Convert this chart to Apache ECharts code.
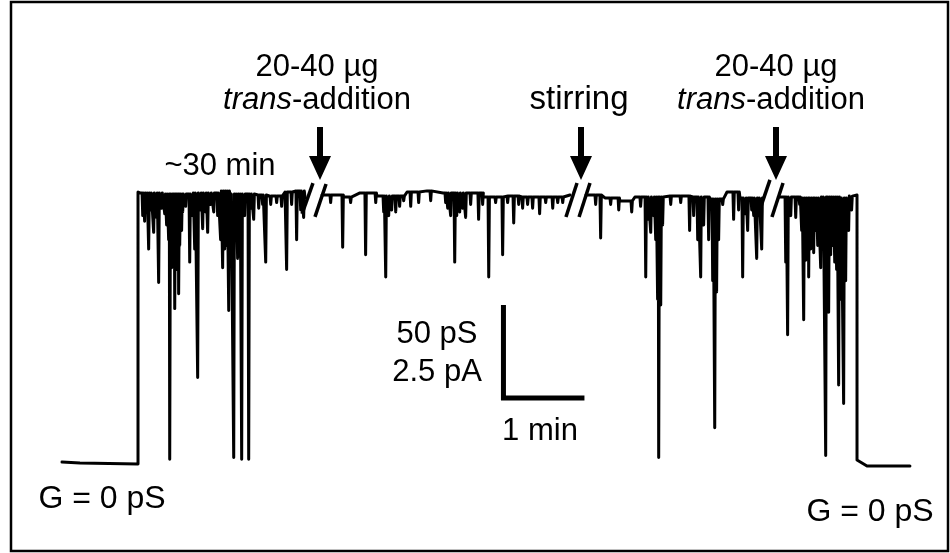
<!DOCTYPE html>
<html>
<head>
<meta charset="utf-8">
<title>trans-addition recording</title>
<script src="https://cdn.jsdelivr.net/npm/echarts@6/dist/echarts.min.js"></script>
<style>
html, body { margin: 0; padding: 0; background: #fff; }
#main { width: 950px; height: 553px; }
</style>
</head>
<body>
<div id="main"></div>
<script>
// time in s, conductance in pS

// closed level before the channel opens
var closedStartT = [0, 13.3, 56.3];
var closedStartG = [0.5, 0, -0.5];

// segment 1 (~30 min after insertion)
var seg1LevelT = [56.3, 57.8, 74.8, 94.8, 115.6, 124.4, 143.0, 154.1, 165.2, 171.1, 180.0];
var seg1LevelG = [145.7, 145.2, 144.6, 145.2, 146.2, 144.6, 144.1, 143.5, 145.7, 146.2, 142.5];
var seg1SpikeT = [59.3, 60.7, 62.2, 63.7, 65.2, 67.4, 69.6, 71.1, 73.3, 75.6, 77.0, 78.5, 79.3, 80.7, 81.5, 82.2, 83.0, 83.7, 84.4, 85.2,
	85.9, 86.7, 88.1, 88.9, 91.1, 94.1, 96.3, 97.8, 100.0, 102.2, 103.7, 105.9, 107.4, 109.6, 111.9, 114.8, 117.0, 118.5, 120.0, 121.5,
	123.0, 124.4, 126.7, 128.1, 129.6, 131.1, 132.6, 134.8, 137.8, 139.3, 141.5, 145.2, 148.1, 150.4, 154.1, 158.5, 162.2, 165.9, 169.6, 173.3,
	176.3, 178.5];
var seg1SpikeG = [133, 130, 135, 115, 136, 124, 132, 97, 137, 134, 128, 120, 2, 105, 112, 108, 83, 115, 104, 109,
	91, 117, 125, 135, 138, 108, 133, 115, 46, 136, 126, 135, 124, 139, 135, 133, 120, 105, 115, 117,
	82, 112, 3, 120, 110, 125, 2, 133, 2, 137, 131, 137, 139, 108, 139, 140, 138, 104, 139, 120,
	136, 132];

// segment 2 (after first trans-addition)
var seg2LevelT = [192.6, 208.1, 220.7, 233.3, 255.6, 270.4, 282.2, 294.8, 311.9, 326.7, 339.3, 357.8, 376.3];
var seg2LevelG = [144.1, 143.0, 145.2, 143.5, 145.7, 146.3, 145.2, 145.2, 143.0, 143.5, 143.0, 143.0, 144.1];
var seg2SpikeT = [198.5, 207.4, 213.3, 224.4, 231.9, 237.8, 239.3, 241.5, 243.7, 246.7, 249.6, 252.6, 257.8, 263.7, 272.6, 283.7, 285.2, 287.4, 290.4, 291.9,
	294.1, 296.3, 298.5, 302.2, 308.1, 311.1, 315.6, 320.7, 325.9, 329.6, 334.1, 337.8, 340.7, 344.4, 348.1, 353.3, 357.8, 363.0, 366.7, 370.4];
var seg2SpikeG = [140, 116, 140, 112, 140, 135, 100, 133, 136, 135, 138, 141, 138, 140, 141, 140, 137, 133, 108, 133,
	135, 137, 132, 139, 131, 139, 100, 140, 112, 140, 129, 139, 137, 139, 137, 134, 140, 137, 140, 140];

// segment 3 (after stirring)
var seg3LevelT = [388.1, 402.2, 413.3, 424.4, 446.7, 465.2, 480.0, 492.6, 502.2, 519.3];
var seg3LevelG = [144.1, 142.5, 140.9, 143.0, 143.5, 143.0, 141.9, 145.7, 142.5, 142.5];
var seg3SpikeT = [394.8, 398.5, 405.9, 411.9, 417.0, 421.5, 428.1, 431.9, 433.3, 435.6, 437.8, 439.3, 440.7, 441.5, 443.0, 444.4, 450.4, 457.8, 464.4, 467.4,
	470.4, 472.6, 474.8, 478.5, 481.5, 483.0, 484.4, 485.9, 488.9, 497.0, 500.7, 503.7, 505.9, 507.4, 510.4, 511.9, 514.1, 515.6, 517.8];
var seg3SpikeG = [139, 121, 139, 136, 140, 135, 138, 100, 131, 124, 133, 120, 88, 3, 85, 128, 139, 140, 125, 133,
	120, 100, 128, 120, 98, 19, 92, 120, 139, 131, 136, 100, 134, 125, 136, 133, 110, 133, 115];

// segment 4 (after second trans-addition)
var seg4LevelT = [531.1, 546.7, 561.5, 576.3, 582.2, 588.9];
var seg4LevelG = [143.0, 142.5, 143.0, 142.5, 143.5, 144.1];
var seg4SpikeT = [535.6, 537.0, 539.3, 543.0, 545.9, 547.4, 548.9, 550.4, 551.9, 552.6, 554.1, 555.6, 556.3, 557.8, 559.3, 561.5, 563.0, 565.2, 565.9, 567.4,
	568.9, 570.4, 571.9, 573.3, 574.8, 576.3, 578.5, 580.0, 582.2, 584.4];
var seg4SpikeG = [108, 69, 133, 132, 139, 125, 77, 109, 123, 100, 115, 120, 113, 125, 117, 105, 120, 4, 82, 81,
	112, 117, 108, 104, 42, 88, 32, 98, 125, 136];

// closed level at the end
var closedEndT = [588.9, 596.3, 628.1];
var closedEndG = [1.6, -1.6, -1.6];

// break marks (//)
var slashStartT = [177.8, 187.4, 373.3, 383.0, 516.3, 525.9];
var slashStartG = [133.9, 132.3, 132.3, 132.3, 134.9, 132.3];
var slashEndT = [185.9, 195.6, 381.5, 391.1, 524.4, 534.1];
var slashEndG = [150.5, 150.0, 150.5, 150.5, 152.2, 150.5];

// scale bar: 50 pS / 1 min
var scaleT0 = 327, scaleG0 = 35, scaleDT = 60, scaleDG = 50;

function buildSegment(levT, levG, spT, spG) {
	var pts = [];
	for (var i = 0; i < levT.length; i++) {
		pts.push([levT[i], levG[i]]);
		var next = i + 1 < levT.length ? levT[i + 1] : Infinity;
		for (var j = 0; j < spT.length; j++) {
			if (spT[j] >= levT[i] && spT[j] < next) {
				pts.push([spT[j], levG[i]], [spT[j] + 0.5, spG[j]], [spT[j] + 1.0, levG[i]]);
			}
		}
	}
	return pts;
}

function pairs(t, g) {
	var out = [];
	for (var i = 0; i < t.length; i++) out.push([t[i], g[i]]);
	return out;
}

var seg1 = pairs(closedStartT, closedStartG).concat(buildSegment(seg1LevelT, seg1LevelG, seg1SpikeT, seg1SpikeG));
var seg2 = buildSegment(seg2LevelT, seg2LevelG, seg2SpikeT, seg2SpikeG);
var seg3 = buildSegment(seg3LevelT, seg3LevelG, seg3SpikeT, seg3SpikeG);
var seg4 = buildSegment(seg4LevelT, seg4LevelG, seg4SpikeT, seg4SpikeG).concat(pairs(closedEndT, closedEndG));

var traceStyle = { color: '#000', width: 3, join: 'round', cap: 'round' };

var series = [seg1, seg2, seg3, seg4].map(function(d) {
	return { type: 'line', data: d, symbol: 'none', clip: false, lineStyle: traceStyle, silent: true };
});

for (var s = 0; s < slashStartT.length; s++) {
	series.push({
		type: 'line', symbol: 'none', clip: false, silent: true,
		data: [[slashStartT[s], slashStartG[s]], [slashEndT[s], slashEndG[s]]],
		lineStyle: { color: '#000', width: 3.5 }
	});
}

series.push({
	type: 'line', symbol: 'none', clip: false, silent: true,
	data: [[scaleT0, scaleG0 + scaleDG], [scaleT0, scaleG0], [scaleT0 + scaleDT, scaleG0]],
	lineStyle: { color: '#000', width: 5, join: 'miter' }
});

var FONT = '"Liberation Sans", Arial, sans-serif';

function label(text, x, y, size) {
	return {
		type: 'text', x: x, y: y, silent: true,
		style: { text: text, fontSize: size || 31, fontFamily: FONT, fill: '#000', align: 'center', verticalAlign: 'middle' }
	};
}

function transLabel(x, y) {
	return {
		type: 'text', x: x, y: y, silent: true,
		style: {
			text: '{i|trans}{n|-addition}', fontSize: 31, fontFamily: FONT, fill: '#000',
			align: 'center', verticalAlign: 'middle',
			rich: {
				i: { fontSize: 31, fontFamily: FONT, fontStyle: 'italic', fill: '#000' },
				n: { fontSize: 31, fontFamily: FONT, fill: '#000' }
			}
		}
	};
}

function arrow(x) {
	return {
		type: 'polygon', silent: true,
		shape: { points: [[x - 3, 127], [x + 3, 127], [x + 3, 156], [x + 11, 156], [x, 180], [x - 11, 156], [x - 3, 156]] },
		style: { fill: '#000' }
	};
}

var myChart = echarts.init(document.getElementById('main'));

var option = {
	animation: false,
	backgroundColor: '#fff',
	grid: { left: 62, right: 40, top: 91, bottom: 52.8 },
	xAxis: { type: 'value', min: 0, max: 628.15, show: false },
	yAxis: { type: 'value', min: -20, max: 200, show: false },
	series: series,
	graphic: [
		{ type: 'rect', silent: true, shape: { x: 11, y: 2, width: 937, height: 549 }, style: { fill: null, stroke: '#000', lineWidth: 2.5 } },
		label('20-40 \u00b5g', 317, 67),
		transLabel(317, 100),
		arrow(320),
		label('~30 min', 220, 166),
		label('stirring', 579, 100, 33),
		arrow(581),
		label('20-40 \u00b5g', 776, 67),
		transLabel(771, 100),
		arrow(776),
		label('50 pS', 437, 334),
		label('2.5 pA', 437, 372),
		label('1 min', 540, 431),
		label('G = 0 pS', 102, 499, 32),
		label('G = 0 pS', 870, 512, 32)
	]
};

myChart.setOption(option);
</script>
</body>
</html>
